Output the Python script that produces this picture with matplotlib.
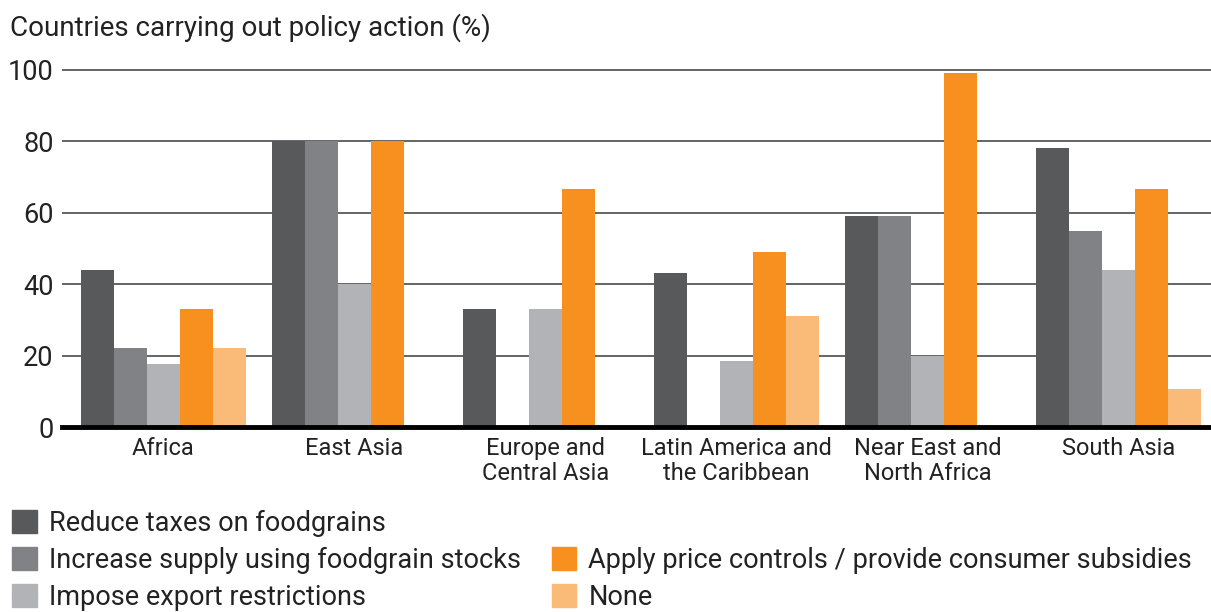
import numpy as np
import matplotlib
matplotlib.use("Agg")
import matplotlib.pyplot as plt
from matplotlib.patches import Patch

plt.rcParams['font.family'] = ['Roboto', 'DejaVu Sans']

regions = ["Africa", "East Asia", "Europe and\nCentral Asia",
           "Latin America and\nthe Caribbean", "Near East and\nNorth Africa", "South Asia"]

series_names = ["Reduce taxes on foodgrains",
                "Increase supply using foodgrain stocks",
                "Impose export restrictions",
                "Apply price controls / provide consumer subsidies",
                "None"]

reduce_taxes = [44, 80, 33, 43, 59, 78]
increase_supply = [22, 80, 0, 0, 59, 55]
export_restr = [17.5, 40, 33, 18.5, 20, 44]
price_controls = [33, 80, 66.5, 49, 99, 66.5]
none_action = [22, 0, 0, 31, 0, 10.5]

colors = ["#58595b", "#808285", "#b1b3b6", "#f7901e", "#fabb78"]

fig = plt.figure(figsize=(12.11, 6.12), dpi=100)
ax = fig.add_axes([62 / 1211, 1 - 427 / 612, 1 - 62 / 1211, (427 - 68) / 612])

x = np.arange(len(regions))
width = 0.173
all_series = [reduce_taxes, increase_supply, export_restr, price_controls, none_action]
for i, vals in enumerate(all_series):
    ax.bar(x + (i - 2) * width, vals, width, color=colors[i], zorder=2)

ax.set_xlim(-0.531, 5.484)
ax.set_ylim(0, 100.5)
ax.set_yticks([0, 20, 40, 60, 80, 100])
ax.yaxis.grid(True, color="#3a3a3a", linewidth=1.1, zorder=1)
ax.set_axisbelow(True)
for s in ["top", "right", "left"]:
    ax.spines[s].set_visible(False)
ax.spines["bottom"].set_linewidth(3.5)
ax.spines["bottom"].set_color("black")
ax.tick_params(axis="y", length=0, labelsize=19.5, pad=6, labelcolor="#222222")
ax.tick_params(axis="x", length=0, labelsize=17, pad=7, labelcolor="#222222")
ax.set_xticks(x)
ax.set_xticklabels(regions, linespacing=1.1)

fig.text(10 / 1211, 1 - 28 / 612, "Countries carrying out policy action (%)",
         fontsize=20, color="#222222", va="center", ha="left")

handles = [Patch(color=colors[0], label=series_names[0]),
           Patch(color=colors[1], label=series_names[1]),
           Patch(color=colors[2], label=series_names[2]),
           Patch(color="none", label=""),
           Patch(color=colors[3], label=series_names[3]),
           Patch(color=colors[4], label=series_names[4])]
fig.legend(handles=handles, ncol=2, loc="upper left", bbox_to_anchor=(4 / 1211, 1 - 502 / 612),
           frameon=False, fontsize=19.5, handlelength=0.9, handleheight=0.93,
           handletextpad=0.45, labelspacing=0.37, columnspacing=1.15, borderaxespad=0,
           borderpad=0.3, labelcolor="#222222")

fig.savefig("out.png", dpi=100)
